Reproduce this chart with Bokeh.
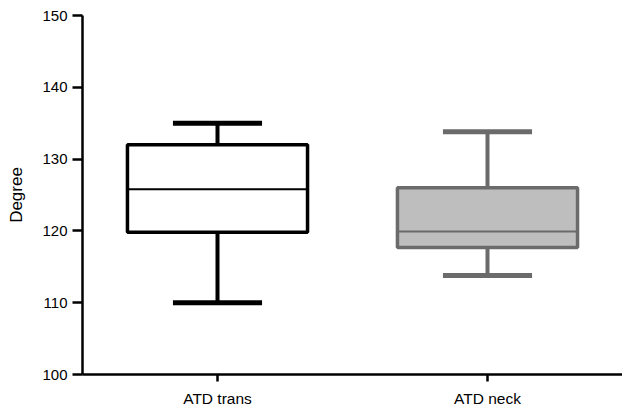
from bokeh.plotting import figure
from bokeh.models import ColumnDataSource, FixedTicker
from bokeh.transform import dodge
from bokeh.embed import file_html
from bokeh.resources import INLINE

categories = ["ATD trans", "ATD neck"]
whisker_low = [110.0, 113.8]
q1 = [119.8, 117.7]
median = [125.8, 119.9]
q3 = [132.0, 126.0]
whisker_high = [135.0, 133.8]
fills = ["#ffffff", "#bebebe"]
lines = ["#000000", "#6b6b6b"]
y_ticks = [100, 110, 120, 130, 140, 150]

src = ColumnDataSource(dict(cat=categories, lo=whisker_low, q1=q1, med=median,
                            q3=q3, hi=whisker_high, fill=fills, line=lines))

p = figure(x_range=categories, y_range=(100, 150), width=622, height=409,
           output_backend="svg", toolbar_location=None,
           min_border_left=82, min_border_right=0, min_border_top=15, min_border_bottom=33)
p.outline_line_color = None
p.xgrid.grid_line_color = None
p.ygrid.grid_line_color = None
p.x_range.range_padding = 0

cw = 0.165
# whisker stems
p.segment(x0="cat", x1="cat", y0="lo", y1="q1", source=src, line_color="line", line_width=4)
p.segment(x0="cat", x1="cat", y0="q3", y1="hi", source=src, line_color="line", line_width=4)
# caps
p.segment(x0=dodge("cat", -cw, range=p.x_range), x1=dodge("cat", cw, range=p.x_range),
          y0="lo", y1="lo", source=src, line_color="line", line_width=5)
p.segment(x0=dodge("cat", -cw, range=p.x_range), x1=dodge("cat", cw, range=p.x_range),
          y0="hi", y1="hi", source=src, line_color="line", line_width=5)
# boxes
p.vbar(x="cat", width=0.667, bottom="q1", top="q3", source=src,
       fill_color="fill", line_color="line", line_width=3.5)
# medians
p.segment(x0=dodge("cat", -0.333, range=p.x_range), x1=dodge("cat", 0.333, range=p.x_range),
          y0="med", y1="med", source=src, line_color="line", line_width=2)

font = "Liberation Sans"
p.yaxis.ticker = FixedTicker(ticks=y_ticks)
p.yaxis.minor_tick_line_color = None
p.yaxis.axis_line_width = 2.5
p.yaxis.major_tick_line_width = 2.5
p.yaxis.major_tick_out = 10
p.yaxis.major_tick_in = 0
p.yaxis.major_label_text_font = font
p.yaxis.major_label_text_font_size = "15px"
p.yaxis.major_label_text_color = "#000000"
p.yaxis.major_label_standoff = 5
p.yaxis.axis_label = "Degree"
p.yaxis.axis_label_text_font = font
p.yaxis.axis_label_text_font_size = "17px"
p.yaxis.axis_label_text_font_style = "normal"
p.yaxis.axis_label_text_color = "#000000"
p.yaxis.axis_label_standoff = 13

p.xaxis.axis_line_width = 2.5
p.xaxis.major_tick_line_width = 2.5
p.xaxis.major_tick_out = 7
p.xaxis.major_tick_in = 0
p.xaxis.major_label_text_font = font
p.xaxis.major_label_text_font_size = "15.5px"
p.xaxis.major_label_text_color = "#000000"
p.xaxis.major_label_standoff = 8

open("out.html", "w").write(file_html(p, INLINE))
